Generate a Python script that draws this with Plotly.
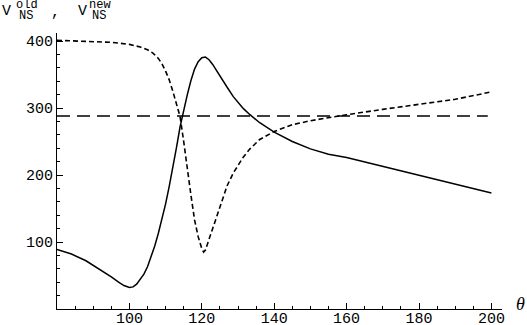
import plotly.graph_objects as go

# solid curve (V_NS old)
x_solid = [80, 84, 88, 92, 95, 97, 98.5, 100, 101, 102, 103, 104, 105, 106, 107, 108, 109, 110,
           111, 112, 113, 114, 115, 116, 117, 118, 119, 120, 121, 122, 123, 124, 125, 126,
           127, 128.7, 130, 131.5, 133.3, 136, 140, 145, 150, 155, 160, 170, 180, 190, 200]
y_solid = [89, 82, 72, 59, 48, 40, 35, 32, 33, 37, 44, 52, 63, 77, 94, 113, 134, 157,
           183, 210, 241, 272, 298, 320, 341, 358, 369, 375, 376, 372, 365, 356, 347, 339,
           331, 317, 308, 299, 290, 278, 264, 250, 239, 231, 226, 213, 199, 186, 173]

# short-dashed curve (V_NS new)
x_dash = [80, 90, 95, 100, 103, 105, 106.5, 108, 109, 110, 111, 112, 113, 114, 115, 116,
          117, 118, 119, 120, 120.5, 121, 122, 123, 124, 125, 126, 127, 128.7, 130, 131.5,
          133.3, 136, 140, 145, 150, 155, 160, 170, 180, 190, 200]
y_dash = [401, 399, 398, 395, 391, 387, 382, 374, 366, 355, 342, 325, 307, 287, 250, 207,
          170, 133, 108, 90, 85, 88, 104, 121, 139, 155, 170, 184, 203, 215, 227,
          239, 253, 265, 275, 281, 286, 290, 298, 305, 313, 324]

# long-dashed constant
x_const = [80, 199]
y_const = [288, 288]

x_ticks = [100, 120, 140, 160, 180, 200]
y_ticks = [100, 200, 300, 400]

fig = go.Figure()
fig.add_trace(go.Scatter(x = x_solid, y = y_solid, mode = "lines",
                         line = dict(color = "black", width = 1.5)))
fig.add_trace(go.Scatter(x = x_dash, y = y_dash, mode = "lines",
                         line = dict(color = "black", width = 1.6, dash = "5px,3px")))
fig.add_trace(go.Scatter(x = x_const, y = y_const, mode = "lines",
                         line = dict(color = "black", width = 1.5, dash = "13px,7px")))

L, R, T, B = 57, 502, 33, 309
W, H = 527, 325


def px(xp, yp):
	return (xp - L) / (R - L), (B - yp) / (B - T)


font = "Liberation Mono, Courier New, monospace"
labels = [("V", 6, 11, 15), ("old", 27, 5, 12), ("NS", 26, 16, 12), (",", 55, 13, 15),
          ("V", 82, 11, 15), ("new", 100, 5, 12), ("NS", 99, 16, 12)]
for text, xp, yp, size in labels:
	ax, ay = px(xp, yp)
	fig.add_annotation(x = ax, y = ay, xref = "paper", yref = "paper", text = text,
	                   showarrow = False, xanchor = "center", yanchor = "middle", borderpad = 0,
	                   font = dict(family = font, size = size, color = "black"))
ax, ay = px(520, 304)
fig.add_annotation(x = ax, y = ay, xref = "paper", yref = "paper", text = "<i>θ</i>",
                   showarrow = False, xanchor = "center", yanchor = "middle", borderpad = 0,
                   font = dict(family = "Liberation Serif", size = 18, color = "black"))

fig.update_layout(width = W, height = H, showlegend = False,
                  plot_bgcolor = "white", paper_bgcolor = "white",
                  margin = dict(l = L, r = W - R, t = T, b = H - B, autoexpand = False))
fig.update_xaxes(range = [80, 80 + (R - L) / 3.62], tickvals = x_ticks, ticks = "inside",
                 ticklen = 6, tickcolor = "black", showgrid = False, zeroline = False,
                 showline = True, linecolor = "black", linewidth = 1, automargin = False,
                 ticklabelstandoff = -5,
                 tickfont = dict(family = font, size = 15, color = "black"),
                 minor = dict(dtick = 5, tick0 = 80, ticks = "inside", ticklen = 3, tickcolor = "black"))
fig.update_yaxes(range = [0, (B - T) / 0.67], tickvals = y_ticks, ticks = "inside",
                 ticklen = 6, tickcolor = "black", showgrid = False, zeroline = False,
                 showline = True, linecolor = "black", linewidth = 1, automargin = False,
                 tickfont = dict(family = font, size = 15, color = "black"),
                 minor = dict(dtick = 20, tick0 = 0, ticks = "inside", ticklen = 3, tickcolor = "black"))

# the page body has a default 8px margin; drop it so the figure sits at the window corner
fig.write_html("out.html", config = dict(displayModeBar = False),
               post_script = "document.body.style.margin = '0';")
